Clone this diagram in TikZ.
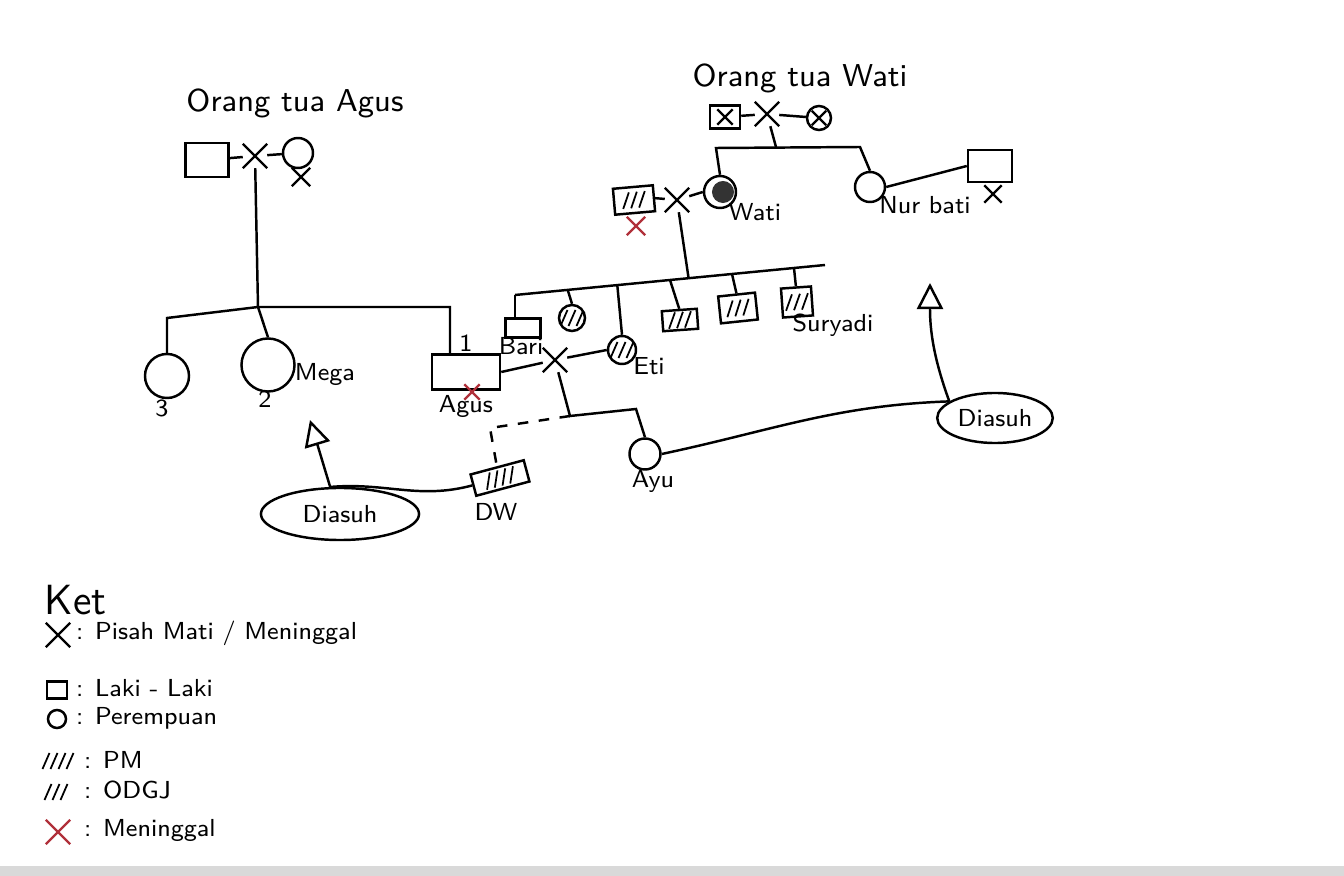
\documentclass[tikz,border=0pt]{standalone}
\usetikzlibrary{arrows.meta,positioning,shapes.misc,shapes.geometric,calc}
\definecolor{penRed}{HTML}{B0303A}
\definecolor{scanGrey}{HTML}{D9D9D9}
\tikzset{
  >={Triangle[open,length=2.6mm,width=2.6mm]},
  male/.style={draw, line width=0.7pt, inner sep=0pt},
  female/.style={draw, circle, line width=0.7pt, inner sep=0pt},
  xmark/.style={cross out, draw, line width=0.7pt, minimum size=2.2mm, inner sep=0pt},
  deadx/.style={cross out, draw=penRed, line width=0.7pt, minimum size=1.6mm, inner sep=0pt},
  tie/.style={line width=0.7pt},
  dline/.style={line width=0.7pt, dashed},
  adopt/.style={->, line width=0.7pt},
  care/.style={draw, ellipse, line width=0.7pt, inner sep=1pt, font=\sffamily\scriptsize},
  lbl/.style={font=\sffamily\scriptsize, inner sep=1pt},
  ttl/.style={font=\sffamily\small},
  key/.style={font=\sffamily\scriptsize, anchor=west, inner sep=1pt},
  odgj/.style={path picture={%
    \foreach \k in {-1,0,1}
      \draw[line width=0.5pt] ([xshift=\k*0.8mm-0.35mm,yshift=-0.8mm]path picture bounding box.center) -- ++(0.7mm,1.6mm);}},
  pm/.style={path picture={%
    \foreach \k in {-1.5,-0.5,0.5,1.5}
      \draw[line width=0.5pt] ([xshift=\k*0.8mm-0.35mm,yshift=-0.8mm]path picture bounding box.center) -- ++(0.7mm,1.6mm);}},
  dark/.style={path picture={\fill[black!80] ([xshift=0.3mm]path picture bounding box.center) circle (1.1mm);}},
}
\begin{document}
\begin{tikzpicture}[x=0.01cm, y=0.01cm]
  \useasboundingbox (0,0) rectangle (1344,-876);
  \fill[scanGrey] (0,-866) rectangle (1344,-876);
  % orang tua Agus
  \node[ttl] (tAgus) at (295,-103) {Orang tua Agus};
  \node[male, minimum width=4.3mm, minimum height=3.4mm] (fA) at (207,-160) {};
  \node[female, minimum size=3mm] (mA) at (298,-153) {};
  \node[xmark, minimum size=1.6mm] (mAx) at (301,-177) {};
  \node[xmark] (xA) at (255,-156) {};
  \draw[tie] (fA) -- (xA) -- (mA);
  % anak-anak
  \node[female, minimum size=4.4mm] (c3) at (167,-376) {};
  \node[female, minimum size=5.3mm] (mega) at (268,-365) {};
  \node[male, minimum width=6.8mm, minimum height=3.5mm] (agus) at (466,-372) {};
  \node[lbl] (n3) at (162,-408) {3};
  \node[lbl] (n2) at (265,-399) {2};
  \node[lbl] (n1) at (466,-343) {1};
  \node[lbl] (lMega) at (325,-374) {Mega};
  \node[lbl] (lAgus) at (466,-406) {Agus};
  \node[deadx, minimum size=1.3mm] (agusx) at (472,-392) {};
  \coordinate (sA1) at (167,-318);
  \coordinate (sA2) at (258,-307);
  \coordinate (sA3) at (450,-307);
  \draw[tie] (xA) -- (sA2);
  \draw[tie] (c3.north) -- (sA1) -- (sA2) -- (sA3) -- (sA3 |- agus.north);
  \draw[tie] (sA2) -- (mega.north);
  % orang tua Wati
  \node[ttl] (tWati) at (800,-78) {Orang tua Wati};
  \node[male, minimum width=3mm, minimum height=2.3mm] (fW) at (725,-117) {};
  \node[xmark, minimum size=1.3mm] (fWx) at (fW) {};
  \node[female, minimum size=2.4mm] (mW) at (819,-118) {};
  \node[xmark, minimum size=1.2mm] (mWx) at (mW) {};
  \node[xmark] (xW) at (767,-114) {};
  \draw[tie] (fW) -- (xW) -- (mW);
  \node[female, dark, minimum size=3.2mm] (wati) at (720,-192) {};
  \node[female, minimum size=3mm] (nur) at (870,-187) {};
  \node[male, minimum width=4.4mm, minimum height=3.2mm] (nurH) at (990,-166) {};
  \node[xmark, minimum size=1.5mm] (nurHx) at (993,-194) {};
  \node[lbl] (lWati) at (755,-212) {Wati};
  \node[lbl] (lNur) at (925,-205) {Nur bati};
  \coordinate (sW) at (776,-147);
  \coordinate (sW1) at (716,-148);
  \coordinate (sW2) at (860,-147);
  \draw[tie] (xW) -- (sW);
  \draw[tie] (wati.north) -- (sW1) -- (sW2) -- (nur.north);
  \draw[tie] (nur.east) -- (nurH.west);
  % suami Wati
  \node[male, odgj, rotate=5, minimum width=4mm, minimum height=2.6mm] (watiH) at (634,-200) {};
  \node[deadx] (watiHx) at (636,-226) {};
  \node[xmark] (xH) at (677,-200) {};
  \draw[tie] (watiH.east) -- (xH) -- (wati.west);
  % anak Wati
  \coordinate (kW0) at (515,-295);
  \coordinate (kW9) at (825,-265);
  \coordinate (kW) at ($(kW0)!0.56!(kW9)$);
  \draw[tie] (xH) -- (kW);
  \draw[tie] (kW0) -- (kW9);
  \node[male, minimum width=3.5mm, minimum height=1.9mm] (bari) at (523,-328) {};
  \node[female, odgj, minimum size=2.6mm] (sis) at (572,-318) {};
  \node[female, odgj, minimum size=2.8mm] (eti) at (622,-350) {};
  \node[male, odgj, rotate=4, minimum width=3.5mm, minimum height=2mm] (bro1) at (680,-320) {};
  \node[male, odgj, rotate=6, minimum width=3.7mm, minimum height=2.7mm] (bro2) at (738,-308) {};
  \node[male, odgj, rotate=4, minimum width=3mm, minimum height=2.9mm] (sur) at (797,-302) {};
  \draw[tie] (kW0) -- (kW0 |- bari.north);
  \foreach \c/\t in {sis/0.17,eti/0.33,bro1/0.5,bro2/0.7,sur/0.9}
    {\draw[tie] ($(kW0)!\t!(kW9)$) -- (\c.north);}
  \node[lbl] (lBari) at (521,-346) {Bari};
  \node[lbl] (lEti) at (649,-366) {Eti};
  \node[lbl] (lSur) at (833,-325) {Suryadi};
  % Agus - Eti
  \node[xmark] (xE) at (555,-360) {};
  \draw[tie] (agus.east) -- (xE) -- (eti.west);
  \node[female, minimum size=3.1mm] (ayu) at (645,-454) {};
  \node[lbl] (lAyu) at (653,-481) {Ayu};
  \node[male, pm, rotate=15, minimum width=5.5mm, minimum height=2.2mm] (dw) at (500,-478) {};
  \node[lbl] (lDw) at (496,-512) {DW};
  \coordinate (kA) at (570,-416);
  \coordinate (kB) at (636,-409);
  \coordinate (kL) at (490,-428);
  \draw[tie] (xE) -- (kA) -- (kB) -- (ayu.north);
  \draw[dline] (kA) -- (kL) -- (dw.north);
  % diasuh
  \node[care, minimum width=15.8mm, minimum height=5.2mm] (asuhL) at (340,-514) {Diasuh};
  \node[care, minimum width=10mm, minimum height=5mm] (asuhR) at (995,-418) {Diasuh};
  \coordinate (tipL) at (310,-420);
  \coordinate (tipR) at (930,-283);
  \draw[tie] (dw.west) to[out=195,in=5] (asuhL.110);
  \draw[adopt] (asuhL.110) -- (tipL);
  \draw[tie] (ayu.east) to[out=12,in=182] (asuhR.160);
  \draw[adopt] (asuhR.160) to[out=110,in=-90] (tipR);
  % keterangan
  \node[font=\sffamily\large, anchor=west, inner sep=0pt] (ket) at (44,-600) {Ket};
  \node[xmark, minimum size=2.2mm] (kX) at (58,-635) {};
  \node[key] (kXt) at (72,-633) {: Pisah Mati / Meninggal};
  \node[male, minimum width=2mm, minimum height=1.7mm] (kSq) at (57,-690) {};
  \node[key] (kSqt) at (72,-688) {: Laki - Laki};
  \node[female, minimum size=1.8mm] (kCi) at (57,-719) {};
  \node[key] (kCit) at (72,-718) {: Perempuan};
  \node[pm, minimum width=3.6mm, minimum height=2.2mm, inner sep=0pt] (kPm) at (58,-761) {};
  \node[key] (kPmt) at (80,-760) {: PM};
  \node[odgj, minimum width=3mm, minimum height=2.2mm, inner sep=0pt] (kOd) at (56,-792) {};
  \node[key] (kOdt) at (80,-790) {: ODGJ};
  \node[deadx, minimum size=2.2mm] (kR) at (58,-832) {};
  \node[key] (kRt) at (80,-830) {: Meninggal};
\end{tikzpicture}
\end{document}
